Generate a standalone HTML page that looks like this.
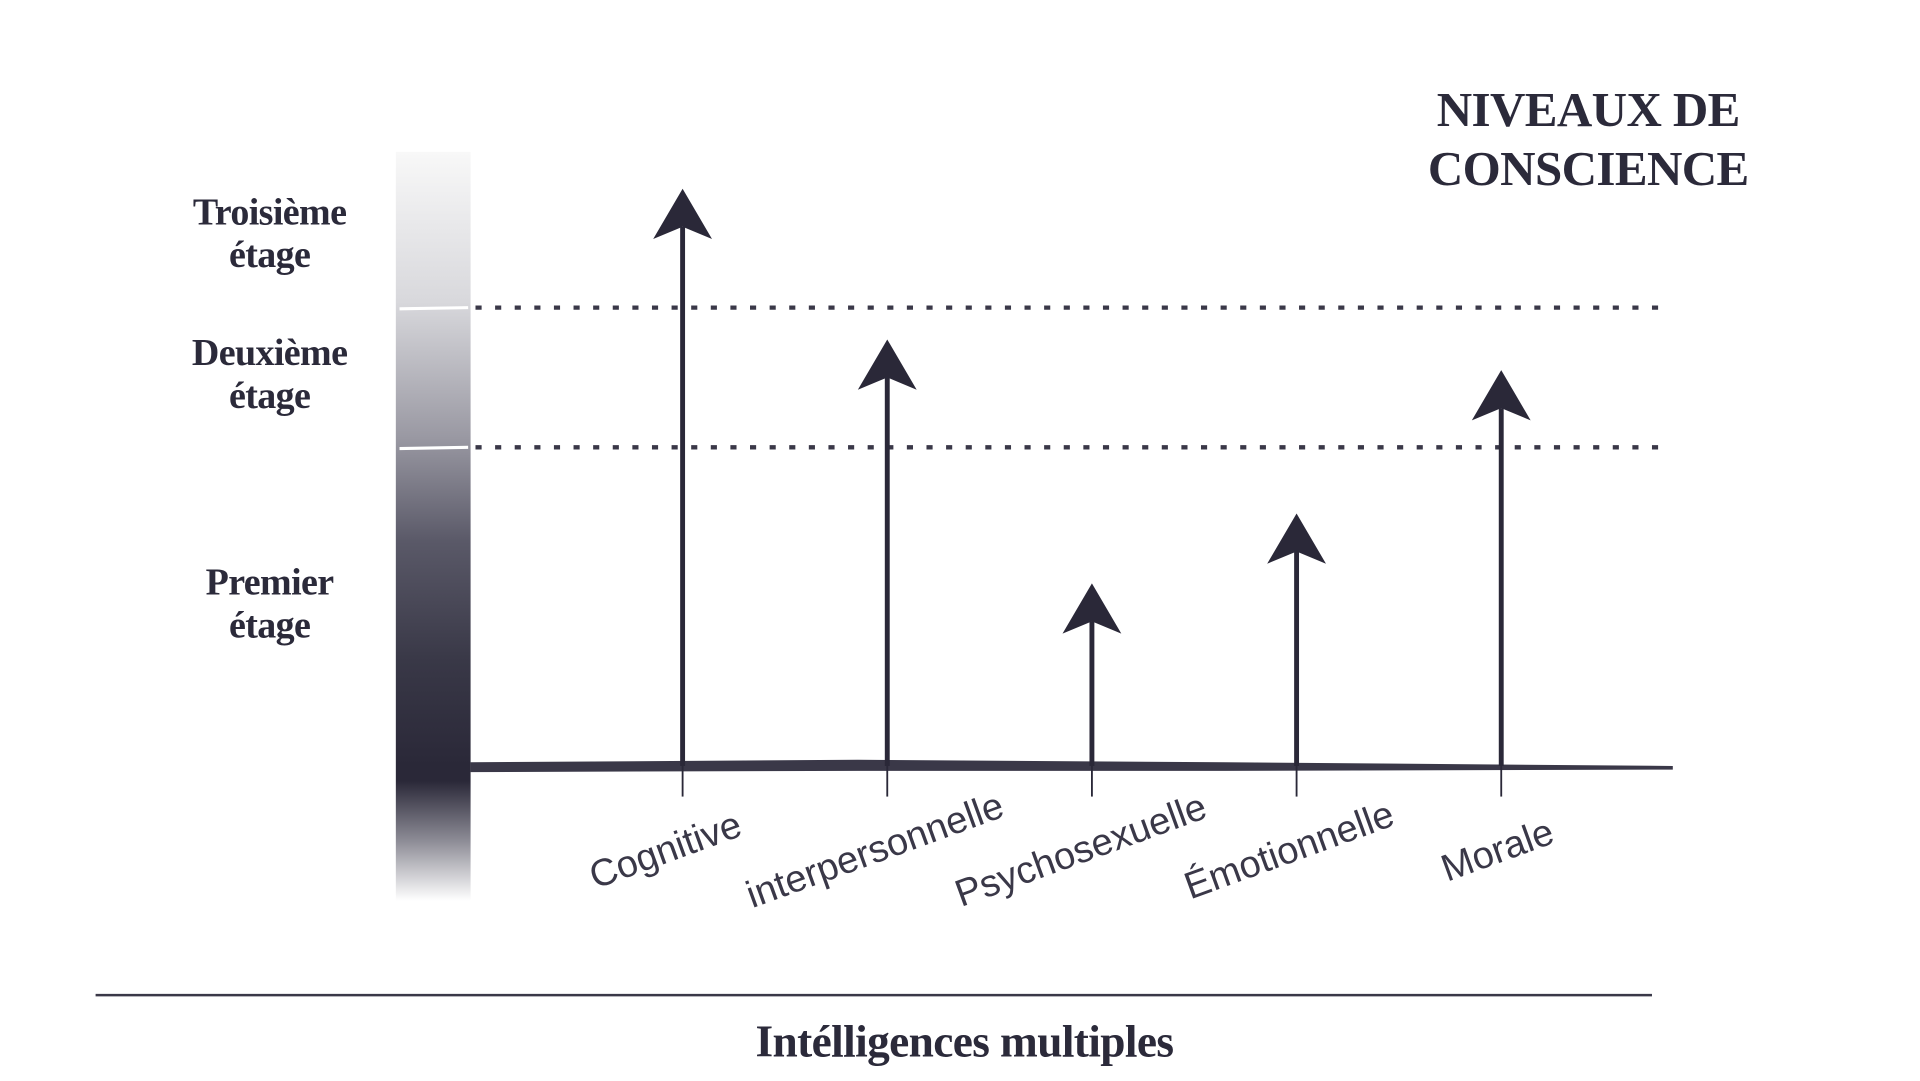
<!DOCTYPE html>
<html><head><meta charset="utf-8"><style>
html,body{margin:0;padding:0;background:#fff;overflow:hidden;width:1920px;height:1080px}
#w{position:absolute;left:0;top:0;width:1568px;height:882px;transform:scale(1.2255);transform-origin:0 0}
.s{font-family:"Liberation Serif",serif;font-weight:bold;color:#2b2a3a;position:absolute;text-align:center;letter-spacing:-0.5px}
.l{font-family:"Liberation Sans",sans-serif;color:#3a3848;position:absolute;font-size:31px;white-space:nowrap}
</style></head><body><div id="w">
<div style="position:absolute;left:323px;top:124px;width:61px;height:611px;background:linear-gradient(#f8f8f8 0%,#d8d8dc 20%,#9a99a3 38%,#5a5968 52%,#393847 68%,#2a2838 82%,#2a2838 84%,#8d8c96 92%,#fff 100%)"></div>
<svg width="1568" height="882" style="position:absolute;left:0;top:0">
<line x1="326" y1="252" x2="382" y2="251" stroke="#fff" stroke-width="2.5"/>
<line x1="326" y1="366" x2="382" y2="365" stroke="#fff" stroke-width="2.5"/>
<line x1="388" y1="251" x2="1362" y2="251" stroke="#3a3848" stroke-width="3.5" stroke-dasharray="5,11"/>
<line x1="388" y1="365" x2="1362" y2="365" stroke="#3a3848" stroke-width="3.5" stroke-dasharray="5,11"/>
<path d="M384 622 L700 620 L1000 622 L1365 625 L1365 628 L1000 629 L700 629 L384 630Z" fill="#3a3848"/>
<g stroke="#2a2838" stroke-width="4" fill="#2a2838">
<line x1="557" y1="185" x2="557" y2="625"/><line x1="557" y1="625" x2="557" y2="650" stroke-width="1.5"/>
<line x1="724" y1="308" x2="724" y2="625"/><line x1="724" y1="625" x2="724" y2="650" stroke-width="1.5"/>
<line x1="891" y1="507" x2="891" y2="625"/><line x1="891" y1="625" x2="891" y2="650" stroke-width="1.5"/>
<line x1="1058" y1="450" x2="1058" y2="625"/><line x1="1058" y1="625" x2="1058" y2="650" stroke-width="1.5"/>
<line x1="1225" y1="333" x2="1225" y2="625"/><line x1="1225" y1="625" x2="1225" y2="650" stroke-width="1.5"/>
</g>
<g fill="#2a2838">
<path d="M557 154 L581 195 L557 185 L533 195Z"/>
<path d="M724 277 L748 318 L724 308 L700 318Z"/>
<path d="M891 476 L915 517 L891 507 L867 517Z"/>
<path d="M1058 419 L1082 460 L1058 450 L1034 460Z"/>
<path d="M1225 302 L1249 343 L1225 333 L1201 343Z"/>
</g>
<line x1="78" y1="812" x2="1348" y2="812" stroke="#3a3848" stroke-width="2"/>
</svg>
<div class="s" style="left:120px;top:155px;width:200px;font-size:31px;line-height:35px">Troisième<br>étage</div>
<div class="s" style="left:120px;top:270px;width:200px;font-size:31px;line-height:35px">Deuxième<br>étage</div>
<div class="s" style="left:120px;top:457px;width:200px;font-size:31px;line-height:35px">Premier<br>étage</div>
<div class="s" style="left:1096px;top:66px;width:400px;font-size:40px;line-height:48px">NIVEAUX DE<br>CONSCIENCE</div>
<div class="s" style="left:487px;top:829px;width:600px;font-size:37px">Intélligences multiples</div>
<div class="l" style="left:543px;top:694px;transform:translate(-50%,-50%) rotate(-20deg)">Cognitive</div>
<div class="l" style="left:714px;top:694px;transform:translate(-50%,-50%) rotate(-20deg)">interpersonnelle</div>
<div class="l" style="left:882px;top:694px;transform:translate(-50%,-50%) rotate(-20deg)">Psychosexuelle</div>
<div class="l" style="left:1052px;top:694px;transform:translate(-50%,-50%) rotate(-20deg)">Émotionnelle</div>
<div class="l" style="left:1222px;top:694px;transform:translate(-50%,-50%) rotate(-20deg)">Morale</div>
</div></body></html>
